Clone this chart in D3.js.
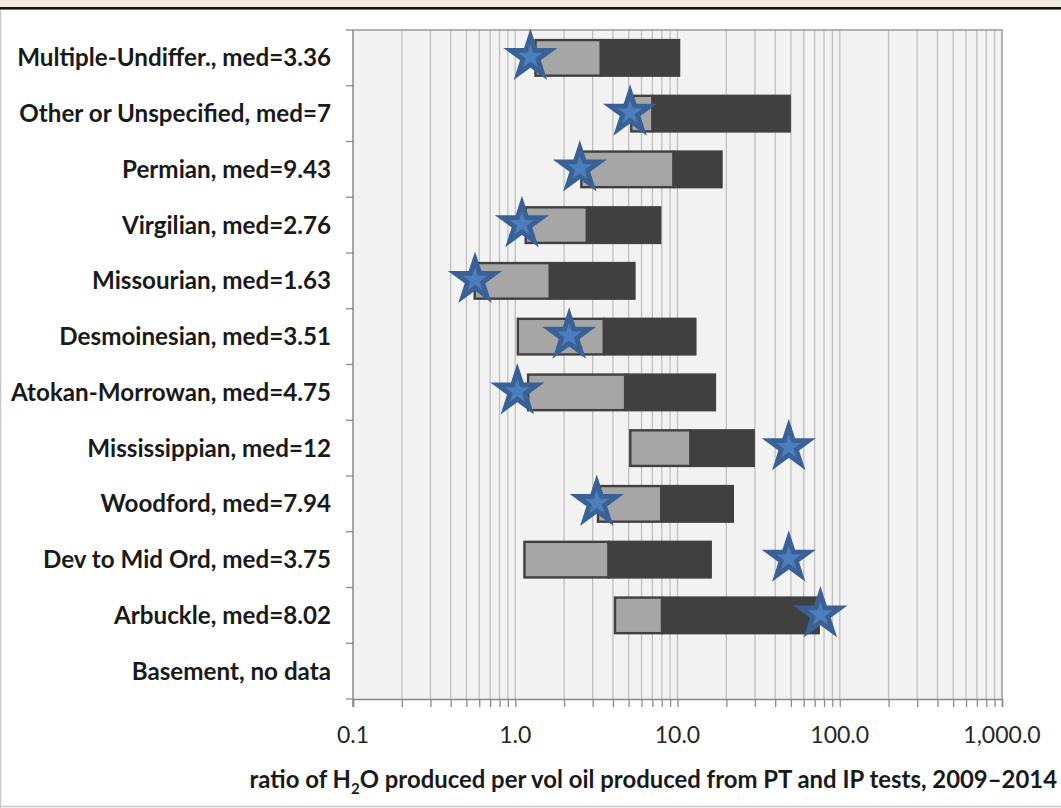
<!DOCTYPE html>
<html>
<head>
<meta charset="utf-8">
<script src="https://cdn.jsdelivr.net/npm/d3@7"></script>
<style>
  html, body { margin: 0; padding: 0; background: #ffffff; }
  svg { display: block; }
</style>
</head>
<body>
<svg id="chart" width="1061" height="808"></svg>
<script>
// Formations (top to bottom) and their water/oil ratio summaries
const formations = [
  "Multiple-Undiffer.", "Other or Unspecified", "Permian", "Virgilian",
  "Missourian", "Desmoinesian", "Atokan-Morrowan", "Mississippian",
  "Woodford", "Dev to Mid Ord", "Arbuckle", "Basement"
];
const medianLabels = ["3.36", "7", "9.43", "2.76", "1.63", "3.51", "4.75", "12", "7.94", "3.75", "8.02", null];
const lowValues    = [1.31, 5.1, 2.51, 1.14, 0.553, 1.02, 1.18, 5.03, 3.18, 1.12, 4.05, null];
const medianValues = [3.36, 7, 9.43, 2.76, 1.63, 3.51, 4.75, 12, 7.94, 3.75, 8.02, null];
const highValues   = [10.4, 50, 19.0, 7.95, 5.52, 13.1, 17.3, 30.0, 22.3, 16.3, 75.5, null];
const starValues   = [1.24, 5.1, 2.5, 1.1, 0.565, 2.15, 1.03, 48.5, 3.18, 48.5, 76, null];
const tickValues   = [0.1, 1, 10, 100, 1000];
const tickLabels   = ["0.1", "1.0", "10.0", "100.0", "1,000.0"];

const svg = d3.select("#chart");
const W = 1061, H = 808;
const plot = { left: 353, right: 1002, top: 30, bottom: 699 };
const font = "Lato, 'Open Sans', sans-serif";

// Page frame
svg.append("rect").attr("x", 0).attr("y", 0).attr("width", W).attr("height", 7).attr("fill", "#eeebdf");
svg.append("rect").attr("x", 0).attr("y", 7).attr("width", W).attr("height", 2.6).attr("fill", "#151515");
svg.append("line").attr("x1", 0.5).attr("x2", 0.5).attr("y1", 10).attr("y2", H).attr("stroke", "#c8c8c8").attr("stroke-width", 1.5);
svg.append("line").attr("x1", 0).attr("x2", W).attr("y1", 806.5).attr("y2", 806.5).attr("stroke", "#c8c8c8").attr("stroke-width", 1.5);

const x = d3.scaleLog().domain([0.1, 1000]).range([plot.left, plot.right]);
const y = d3.scaleBand().domain(formations).range([plot.top, plot.bottom]).padding(0);
const rowH = y.bandwidth();
const barH = 38;

// Plot background
svg.append("rect")
  .attr("x", plot.left).attr("y", plot.top)
  .attr("width", plot.right - plot.left).attr("height", plot.bottom - plot.top)
  .attr("fill", "#f2f2f2");

// Vertical gridlines at every 1..9 multiple of each decade
const gridValues = [];
for (let e = -1; e < 3; e++) {
  for (let m = 1; m <= 9; m++) gridValues.push(m * Math.pow(10, e));
}
gridValues.push(1000);

svg.append("g").selectAll("line").data(gridValues.filter(v => v > 0.1 && v < 1000)).join("line")
  .attr("x1", d => x(d)).attr("x2", d => x(d))
  .attr("y1", plot.top).attr("y2", plot.bottom)
  .attr("stroke", "#bfbfbf").attr("stroke-width", 1.3);

// Plot border (top and right)
svg.append("path")
  .attr("d", `M${plot.left},${plot.top}H${plot.right}V${plot.bottom}`)
  .attr("fill", "none").attr("stroke", "#9a9a9a").attr("stroke-width", 1.5);

// Bottom axis: line, tick marks at every gridline, decade labels
const xAxis = d3.axisBottom(x)
  .tickValues(gridValues)
  .tickSize(8)
  .tickFormat("");
const gx = svg.append("g").attr("transform", `translate(0,${plot.bottom})`).call(xAxis);
gx.select(".domain").attr("stroke", "#8a8a8a").attr("stroke-width", 1.5);
gx.selectAll(".tick line").attr("stroke", "#8a8a8a").attr("stroke-width", 1.3);

svg.append("g").selectAll("text").data(tickValues).join("text")
  .attr("x", d => x(d)).attr("y", 743)
  .attr("text-anchor", "middle")
  .attr("font-family", font)
  .attr("font-size", 23)
  .attr("fill", "#262626")
  .text((d, i) => tickLabels[i]);

// Left axis: line and tick marks at row boundaries
const boundaries = d3.range(formations.length + 1).map(i => plot.top + i * rowH);
svg.append("line")
  .attr("x1", plot.left).attr("x2", plot.left).attr("y1", plot.top).attr("y2", plot.bottom + 8)
  .attr("stroke", "#8a8a8a").attr("stroke-width", 1.5);
svg.append("g").selectAll("line").data(boundaries).join("line")
  .attr("x1", plot.left - 7).attr("x2", plot.left)
  .attr("y1", d => d).attr("y2", d => d)
  .attr("stroke", "#8a8a8a").attr("stroke-width", 1.3);

// Category labels
svg.append("g").selectAll("text").data(formations).join("text")
  .attr("x", 331)
  .attr("y", d => y(d) + rowH / 2 + 8.5)
  .attr("text-anchor", "end")
  .attr("font-family", font)
  .attr("font-weight", "bold")
  .attr("font-size", 24.2)
  .attr("fill", "#1a1a1a")
  .text((d, i) => medianLabels[i] === null ? `${d}, no data` : `${d}, med=${medianLabels[i]}`);

// Bars: low→median (light) and median→high (dark)
const rows = formations.map((name, i) => ({
  name, low: lowValues[i], med: medianValues[i], high: highValues[i], star: starValues[i]
})).filter(r => r.low !== null);

const bars = svg.append("g");
bars.selectAll("rect.dark").data(rows).join("rect")
  .attr("class", "dark")
  .attr("x", d => x(d.med)).attr("width", d => x(d.high) - x(d.med))
  .attr("y", d => y(d.name) + (rowH - barH) / 2).attr("height", barH)
  .attr("fill", "#404040");
bars.selectAll("rect.light").data(rows).join("rect")
  .attr("class", "light")
  .attr("x", d => x(d.low) + 1.2).attr("width", d => x(d.med) - x(d.low) - 1.2)
  .attr("y", d => y(d.name) + (rowH - barH) / 2 + 1.2).attr("height", barH - 2.4)
  .attr("fill", "#a6a6a6")
  .attr("stroke", "#404040").attr("stroke-width", 2.4);

// Star markers
const ka = 0.8908130915292852;
const outerStar = d3.symbol(d3.symbolStar, (28.5 * 28.5) / ka);
const innerStar = d3.symbol(d3.symbolStar, (13 * 13) / ka);
const stars = svg.append("g");
stars.selectAll("path.outer").data(rows).join("path")
  .attr("class", "outer")
  .attr("transform", d => `translate(${x(d.star)},${y(d.name) + rowH / 2 - 1})`)
  .attr("d", outerStar)
  .attr("fill", "#3a6196");
stars.selectAll("path.inner").data(rows).join("path")
  .attr("class", "inner")
  .attr("transform", d => `translate(${x(d.star)},${y(d.name) + rowH / 2 - 1})`)
  .attr("d", innerStar)
  .attr("fill", "#4c7ebd");

// Axis title with subscript
const title = svg.append("text")
  .attr("x", 1057).attr("y", 788)
  .attr("text-anchor", "end")
  .attr("font-family", font)
  .attr("font-weight", "bold")
  .attr("font-size", 23.9)
  .attr("fill", "#1a1a1a");
title.append("tspan").text("ratio of H");
title.append("tspan").attr("font-size", 15).attr("dy", 6).text("2");
title.append("tspan").attr("dy", -6).text("O produced per vol oil produced from PT and IP tests, 2009\u20132014");
</script>
</body>
</html>
